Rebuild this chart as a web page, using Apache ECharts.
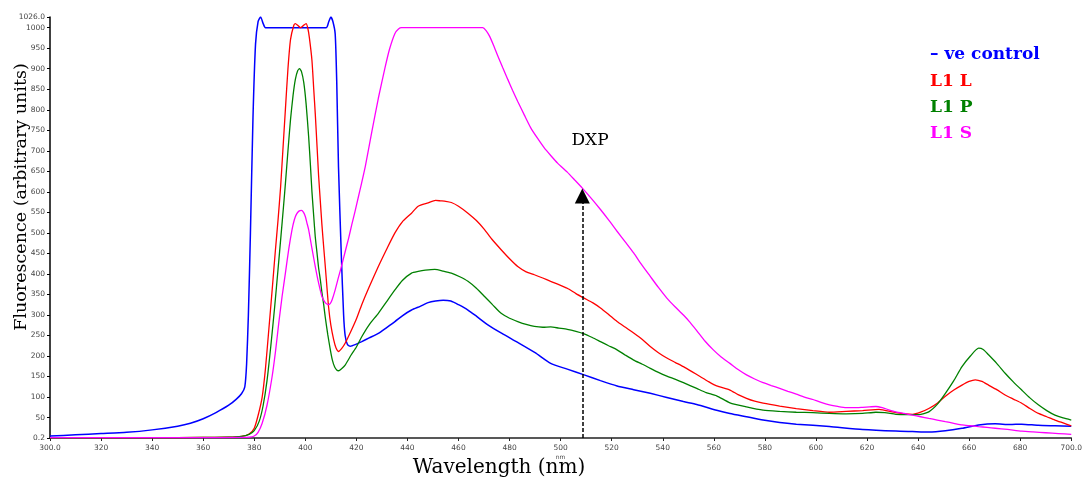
<!DOCTYPE html>
<html>
<head>
<meta charset="utf-8">
<script src="https://cdn.jsdelivr.net/npm/echarts@6/dist/echarts.min.js"></script>
<style>
html,body{margin:0;padding:0;background:#fff;}
#chart{width:1085px;height:481px;}
</style>
</head>
<body>
<div id="chart"></div>
<script>
// ---- Data (wavelength nm, fluorescence a.u.) ----
var yTicks = [0.2,50,100,150,200,250,300,350,400,450,500,550,600,650,700,750,800,850,900,950,1000,1026];
var xMin = 300, xMax = 700, xStep = 20;

var seriesNames = ['– ve control', 'L1 L', 'L1 P', 'L1 S'];

var negControl = [[300,5],[310,8],[320,11],[330,14],[340,20],[350,29],[355,36],[360,47],[365,62],[370,80],[373,95],[375,108],[376.3,125],[377,180],[377.7,300],[378.5,500],[379.5,780],[380.5,960],[381.5,1015],[382.5,1026],[383.5,1010],[384.4,1000],[408.2,1000],[409.2,1015],[410,1026],[410.8,1015],[411.7,985],[412.3,870],[413,660],[414.1,445],[415,300],[415.6,250],[416.5,228],[417.6,224],[420,229],[422.1,235],[425,244],[428.6,255],[432,270],[435.1,284],[438,298],[441.6,312],[445,321],[448.1,330],[451,334],[454,336],[457,334],[460,325],[463.7,312],[467,297],[471.5,276],[477,255],[483.2,233],[490,208],[496.1,182],[502.6,168],[509.2,154],[515.6,140],[522.1,127],[528.6,118],[535.1,109],[541.6,99],[548.1,89],[553.3,82],[561.1,68],[566.3,60],[572.8,52],[579.3,44],[585.8,38],[592.3,34],[605.3,28],[618.3,21],[631.3,17],[637.8,16],[644.2,15],[650.7,18],[657.2,24],[663.7,32],[670.2,35],[676,33],[680.6,34],[687,31],[693.6,30],[700,29]];

var l1L = [[300,1],[320,1],[340,1],[360,1.5],[370,2],[375,4],[378,10],[380,24],[381.5,55],[383.1,100],[384.4,170],[385.7,264],[387,360],[388.3,459],[389.3,530],[390.3,610],[391.2,700],[392.2,801],[393.2,900],[394.2,971],[395.5,1006],[396.1,1010],[397,1006],[398.1,1000],[399.2,1005],[400.3,1010],[401,998],[401.6,975],[402.6,920],[403.3,850],[403.9,790],[404.6,710],[405.2,640],[405.9,575],[406.5,520],[407.2,465],[407.8,420],[408.5,365],[409.1,320],[410,275],[411.1,240],[412,220],[413,211],[414.2,218],[415.6,231],[418,262],[420,290],[422.1,325],[425,368],[428.6,418],[432,462],[435.1,500],[438,527],[441.6,548],[444.2,565],[448.1,573],[451,579],[453,578],[455,577],[457.2,574],[460,565],[463.7,548],[467,530],[470.2,508],[473,485],[476.7,459],[480,437],[483.2,418],[486.5,405],[489.7,398],[493,390],[496.1,382],[499.3,374],[502.6,365],[506,352],[509.2,341],[512.5,330],[515.6,317],[519,300],[522.1,284],[525.4,270],[528.6,256],[532,240],[535.1,223],[538.3,208],[541.6,195],[545,184],[548.1,174],[551.4,162],[554.6,150],[557.8,138],[561.1,127],[566.3,117],[569.5,106],[572.8,97],[576,90],[579.3,85],[585.8,78],[592.3,72],[598.8,67],[605.3,63],[611.8,65],[618.3,67],[624.7,70],[631.3,62],[637.8,58],[641,63],[644.2,72],[647.5,85],[650.7,102],[654,117],[657.2,129],[660,138],[662.4,142],[665,138],[667.6,129],[670.8,118],[674.1,105],[677.3,95],[680.6,85],[683.8,72],[687.1,60],[690.4,52],[693.6,44],[696.8,37],[700,30]];

var l1P = [[300,1],[320,1],[340,1],[360,1.5],[370,2],[375,4],[378,9],[380,18],[382,42],[383.5,80],[385,140],[386.5,225],[388,320],[389.3,410],[390.5,495],[391.4,560],[392.2,620],[393.2,700],[394.2,776],[395.2,835],[396.1,874],[397,895],[397.7,900],[398.5,893],[399.4,866],[400.3,815],[401.3,735],[402,665],[402.6,600],[403.3,540],[403.9,490],[404.6,450],[405.2,415],[405.9,385],[406.5,355],[407.2,325],[407.8,295],[408.8,252],[409.8,215],[410.6,190],[411.5,173],[412.3,166],[413,164],[414.2,169],[415.6,178],[418,203],[420,222],[422.1,247],[425,276],[428.6,304],[432,334],[435.1,361],[438,384],[441.6,402],[444.2,406],[447,409],[450.7,411],[454,407],[457.2,402],[460.5,393],[463.7,382],[467,365],[470.2,345],[473.5,324],[476.7,304],[480,292],[483.2,284],[486.5,277],[489.7,272],[493,270],[496.1,271],[499.3,268],[502.6,265],[506,260],[509.2,254],[512.4,245],[515.6,235],[518.8,225],[522.1,215],[525.4,202],[528.6,190],[532,180],[535.1,170],[538.3,160],[541.6,151],[545,143],[548.1,135],[553.3,121],[557,111],[561.1,103],[566.3,86],[572.8,76],[579.3,68],[585.8,65],[592.3,63],[598.8,62],[605.3,60],[611.8,59],[618.3,60],[623.5,63],[627,62],[631.3,58],[635.5,57],[640.3,57],[644.2,64],[647.5,82],[650.7,109],[654,140],[657.2,174],[660.5,200],[663.7,219],[665.5,216],[667.6,203],[670.8,182],[674.1,158],[677.3,137],[680.6,117],[683.8,98],[687.1,81],[690.4,67],[693.6,56],[696.8,49],[700,44]];

var l1S = [[300,1],[330,1],[360,1],[375,1.5],[378,2],[380,5],[381.5,14],[383.1,36],[385,80],[387,150],[388.3,210],[389.6,280],[390.9,345],[392.2,402],[393.5,460],[394.8,508],[395.7,532],[396.5,545],[397.5,553],[398.5,555],[399.3,550],[400,540],[400.6,525],[401.3,508],[402.6,462],[403.9,418],[405.2,378],[406.5,345],[407.8,330],[408.6,326],[409.1,325],[409.8,328],[410.5,337],[411.7,361],[413,392],[414.3,422],[415.6,454],[417,488],[418.2,520],[419.5,553],[420.8,588],[422,620],[423.5,662],[426,745],[428.6,828],[431.2,902],[433,948],[435.1,986],[436.5,997],[437.7,1000],[469.5,1000],[470.8,993],[472.1,980],[473.8,956],[475.4,931],[477.3,903],[479.3,874],[481.2,847],[483.2,820],[485.8,787],[488.3,756],[491,730],[493.6,707],[496.2,688],[498.8,670],[502.6,648],[505.5,629],[508.5,609],[512,584],[515.6,557],[519,530],[522.1,504],[525.3,478],[528.6,451],[531.8,422],[535.1,394],[538.3,367],[541.6,341],[544.8,320],[548.1,300],[550.7,282],[553.3,262],[556.6,236],[559.8,215],[563,197],[566.3,182],[569.5,167],[572.8,154],[576,144],[579.3,135],[582.5,128],[585.8,121],[589,114],[592.3,107],[595.5,100],[598.8,94],[602,87],[605.3,81],[608.5,77],[611.8,74],[615,74],[618.3,75],[621,76],[623.5,77],[626,74],[628.5,69],[631.3,64],[634.5,60],[637.8,56],[641,52],[644.2,48],[647.5,44],[650.7,40],[654,36],[657.2,32],[660.5,30],[663.7,28],[667,26],[670.2,24],[675,21],[680.6,17],[685,15],[690,13],[695,11],[700,9]];

// DXP annotation (wavelength, arrow start/end intensity, label position)
var dxpWavelength = 508.5;
var dxpArrowFrom = 0.2;
var dxpArrowTo = 590;
var dxpLabel = 'DXP';
var dxpLabelAt = [511.5, 725];

var colors = ['#0000ff', '#ff0000', '#008000', '#ff00ff'];

var chart = echarts.init(document.getElementById('chart'), null, {renderer: 'canvas'});

function lineSeries(name, data, color, width) {
  return {
    name: name, type: 'line', data: data,
    showSymbol: false, symbol: 'none', smooth: 0.2,
    lineStyle: {color: color, width: width},
    itemStyle: {color: color},
    emphasis: {disabled: true}, silent: true
  };
}

var sBlue = lineSeries(seriesNames[0], negControl, colors[0], 1.5);
var sRed = lineSeries(seriesNames[1], l1L, colors[1], 1.3);
var sGreen = lineSeries(seriesNames[2], l1P, colors[2], 1.3);
var sMag = lineSeries(seriesNames[3], l1S, colors[3], 1.3);

var arrowSeries = {
  type: 'line', data: [], silent: true, symbol: 'none',
  markLine: {
    silent: true,
    symbol: ['none', 'triangle'],
    symbolSize: 15,
    label: {show: false},
    emphasis: {disabled: true},
    lineStyle: {color: '#000', type: [4, 2], width: 1.5},
    itemStyle: {color: '#000'},
    data: [[{coord: [dxpWavelength, dxpArrowFrom]}, {coord: [dxpWavelength, dxpArrowTo]}]]
  },
  markPoint: {
    silent: true,
    symbol: 'circle', symbolSize: 1,
    itemStyle: {color: 'rgba(0,0,0,0)'},
    label: {show: true, position: 'inside', formatter: dxpLabel, color: '#000',
            fontFamily: 'DejaVu Serif', fontSize: 17},
    data: [{coord: dxpLabelAt}]
  }
};

var legendY = [55, 82, 108, 134];

var option = {
  animation: false,
  backgroundColor: '#ffffff',
  grid: {left: 50, right: 9, top: 17, bottom: 43},
  xAxis: {
    type: 'value', min: xMin, max: xMax, interval: xStep,
    axisLine: {show: true, lineStyle: {color: '#222', width: 1.5}},
    axisTick: {show: true, length: 3, lineStyle: {color: '#222'}},
    splitLine: {show: false},
    axisLabel: {
      fontFamily: 'DejaVu Sans', fontSize: 7.5, color: '#444', margin: 6, lineHeight: 9,
      formatter: function (v) {
        if (v === xMin || v === xMax) return v.toFixed(1);
        if (v === 500) return '500\n{s|nm}';
        return String(v);
      },
      rich: {s: {fontSize: 6, color: '#444', fontFamily: 'DejaVu Sans'}}
    }
  },
  yAxis: {
    type: 'value', min: yTicks[0], max: yTicks[yTicks.length - 1],
    axisLine: {show: true, lineStyle: {color: '#000', width: 1.5}},
    axisTick: {show: true, length: 3, customValues: yTicks, lineStyle: {color: '#000'}},
    splitLine: {show: false},
    axisLabel: {
      customValues: yTicks,
      fontFamily: 'DejaVu Sans', fontSize: 7.5, color: '#444', margin: 5,
      formatter: function (v) {
        if (v === yTicks[yTicks.length - 1]) return v.toFixed(1);
        return String(v);
      }
    }
  },
  graphic: [
    {type: 'text', x: 21, y: 197, rotation: Math.PI / 2,
     style: {text: 'Fluorescence (arbitrary units)', fill: '#000', font: '17.5px "DejaVu Serif"',
             align: 'center', verticalAlign: 'middle'}},
    {type: 'text', x: 499, y: 468,
     style: {text: 'Wavelength (nm)', fill: '#000', font: '20px "DejaVu Serif"',
             align: 'center', verticalAlign: 'middle'}},
    {type: 'text', x: 930, y: legendY[0],
     style: {text: seriesNames[0], fill: colors[0], font: 'bold 17px "DejaVu Serif"', verticalAlign: 'middle'}},
    {type: 'text', x: 930, y: legendY[1],
     style: {text: seriesNames[1], fill: colors[1], font: 'bold 17px "DejaVu Serif"', verticalAlign: 'middle'}},
    {type: 'text', x: 930, y: legendY[2],
     style: {text: seriesNames[2], fill: colors[2], font: 'bold 17px "DejaVu Serif"', verticalAlign: 'middle'}},
    {type: 'text', x: 930, y: legendY[3],
     style: {text: seriesNames[3], fill: colors[3], font: 'bold 17px "DejaVu Serif"', verticalAlign: 'middle'}}
  ],
  series: [sBlue, sRed, sGreen, sMag, arrowSeries]
};

chart.setOption(option);
</script>
</body>
</html>
